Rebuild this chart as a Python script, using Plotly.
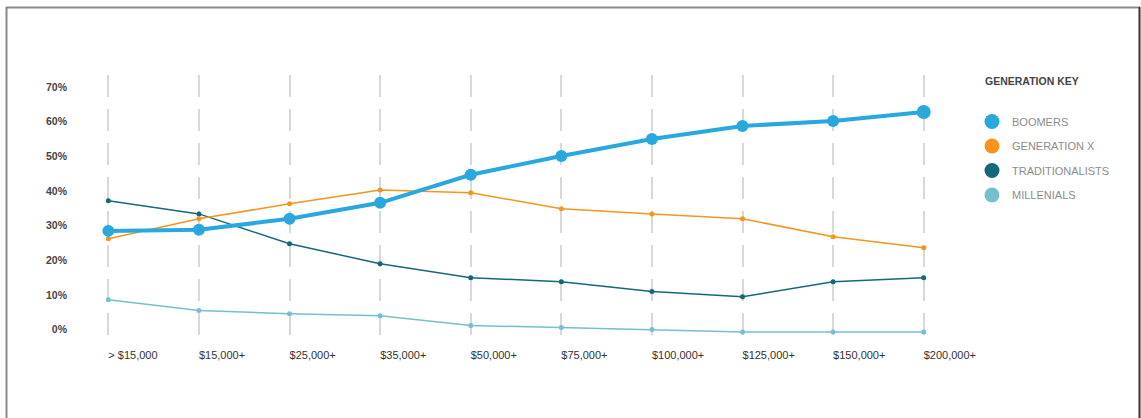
import plotly.graph_objects as go

categories = ["> $15,000", "$15,000+", "$25,000+", "$35,000+", "$50,000+",
              "$75,000+", "$100,000+", "$125,000+", "$150,000+", "$200,000+"]
boomers = [28.5, 28.8, 32.0, 36.6, 44.7, 50.1, 55.0, 58.8, 60.2, 62.8]
gen_x = [26.2, 32.0, 36.3, 40.3, 39.5, 34.9, 33.4, 32.0, 26.8, 23.6]
traditionalists = [37.2, 33.4, 24.8, 19.0, 15.0, 13.8, 11.0, 9.5, 13.8, 15.0]
millenials = [8.6, 5.5, 4.6, 4.0, 1.2, 0.6, 0.0, -0.7, -0.7, -0.7]
y_ticks = [0, 10, 20, 30, 40, 50, 60, 70]
y_tick_labels = ["0%", "10%", "20%", "30%", "40%", "50%", "60%", "70%"]
series_names = ["BOOMERS", "GENERATION X", "TRADITIONALISTS", "MILLENIALS"]
colors = ["#29A8E0", "#F7941D", "#15687A", "#76BFCC"]

x_idx = list(range(len(categories)))

fig = go.Figure()

fig.add_trace(go.Scatter(x=x_idx, y=millenials, mode="lines+markers",
                         line=dict(color=colors[3], width=1.5),
                         marker=dict(size=5, color=colors[3], opacity=1, line=dict(width=0)),
                         showlegend=False))
fig.add_trace(go.Scatter(x=x_idx, y=traditionalists, mode="lines+markers",
                         line=dict(color=colors[2], width=1.5),
                         marker=dict(size=5, color=colors[2], opacity=1, line=dict(width=0)),
                         showlegend=False))
fig.add_trace(go.Scatter(x=x_idx, y=gen_x, mode="lines+markers",
                         line=dict(color=colors[1], width=1.5),
                         marker=dict(size=5, color=colors[1], opacity=1, line=dict(width=0)),
                         showlegend=False))
b_sizes = [12] * (len(boomers) - 1) + [14]
fig.add_trace(go.Scatter(x=x_idx, y=boomers, mode="lines+markers",
                         line=dict(color=colors[0], width=4),
                         marker=dict(size=b_sizes, color=colors[0], opacity=1, line=dict(width=0)),
                         showlegend=False))

for name, c in zip(series_names, colors):
    fig.add_trace(go.Scatter(x=[None], y=[None], mode="markers", name=name,
                             legendgroup=name,
                             marker=dict(size=15, color=c, opacity=1, line=dict(width=0)),
                             showlegend=True))

L, R, T, B = 54, 172, 75, 78
W, H = 1141, 418
pw, ph = W - L - R, H - T - B

def px_x(x):
    return (x - L) / pw

def px_y(y):
    return (H - B - y) / ph

shapes = [
    dict(type="line", xref="paper", yref="paper", x0=px_x(6.5), x1=px_x(6.5),
         y0=px_y(7), y1=px_y(430), line=dict(color="#8a8a8a", width=2)),
    dict(type="line", xref="paper", yref="paper", x0=px_x(6), x1=px_x(1140),
         y0=px_y(7.5), y1=px_y(7.5), line=dict(color="#8a8a8a", width=2)),
    dict(type="line", xref="paper", yref="paper", x0=px_x(1139.5), x1=px_x(1139.5),
         y0=px_y(7), y1=px_y(430), line=dict(color="#333333", width=2)),
]

fig.update_layout(
    width=W, height=H,
    margin=dict(l=L, r=R, t=T, b=B),
    paper_bgcolor="white", plot_bgcolor="white",
    font=dict(family="Liberation Sans, Arial, sans-serif", color="#333"),
    shapes=shapes,
    showlegend=True,
    legend=dict(x=px_x(972), y=px_y(107), xanchor="left", yanchor="top",
                traceorder="grouped", tracegroupgap=5.5, itemsizing="trace",
                font=dict(size=11, color="#8c8c8c"), bgcolor="rgba(0,0,0,0)"),
    annotations=[dict(text="<b>GENERATION KEY</b>", xref="paper", yref="paper",
                      x=px_x(983), y=px_y(81), xanchor="left", yanchor="middle",
                      showarrow=False, font=dict(size=10.5, color="#444"))],
    xaxis=dict(range=[-0.6, 9.5], tickmode="array", tickvals=x_idx,
               ticktext=categories, showgrid=True, gridcolor="#d8d8d8",
               gridwidth=2, griddash="22px,12px", zeroline=False, showline=False,
               ticks="", ticklabelposition="outside right", ticklabelstandoff=7,
               tickfont=dict(size=11, color="#333")),
    yaxis=dict(range=[-3, 73.5], tickmode="array", tickvals=y_ticks,
               ticktext=y_tick_labels, showgrid=False, zeroline=False,
               showline=False, ticks="", ticklabelstandoff=-14,
               tickfont=dict(size=10.5, color="#444", weight="bold")),
)

fig.write_html("out.html")
